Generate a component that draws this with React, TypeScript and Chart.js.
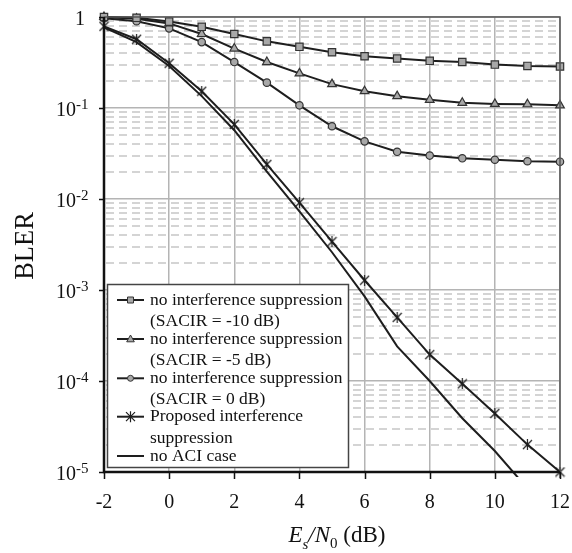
import React, { useEffect, useRef } from 'react';
import { Chart, registerables } from 'chart.js';

Chart.register(...registerables);

// ---------- data ----------
const snrDb = [-2, -1, 0, 1, 2, 3, 4, 5, 6, 7, 8, 9, 10, 11, 12];
const blerSacirM10 = [1.0, 0.98, 0.89, 0.78, 0.65, 0.54, 0.47, 0.41, 0.37, 0.35, 0.33, 0.32, 0.3, 0.29, 0.286];
const blerSacirM5 = [1.0, 0.955, 0.85, 0.65, 0.45, 0.32, 0.24, 0.183, 0.153, 0.135, 0.123, 0.114, 0.111, 0.11, 0.107];
const blerSacir0 = [0.97, 0.9, 0.75, 0.53, 0.32, 0.19, 0.107, 0.063, 0.043, 0.033, 0.03, 0.028, 0.027, 0.026, 0.0257];
const blerProposed = [0.79, 0.57, 0.31, 0.153, 0.066, 0.024, 0.0091, 0.0034, 0.00128, 0.0005, 0.000195, 0.000093, 0.000044, 0.00002, 0.00001];
const snrDbNoAci = [-2, -1, 0, 1, 2, 3, 4, 5, 6, 7, 8, 9, 10, 11];
const blerNoAci = [0.77, 0.53, 0.29, 0.135, 0.057, 0.02, 0.0073, 0.0026, 0.00085, 0.00024, 0.0001, 0.000039, 0.000017, 0.0000066];

const xTickValues = [-2, 0, 2, 4, 6, 8, 10, 12];
const yDecadeExponents = [0, -1, -2, -3, -4, -5];
const legendLabels = [
  ['no interference suppression', '(SACIR = -10 dB)'],
  ['no interference suppression', '(SACIR = -5 dB)'],
  ['no interference suppression', '(SACIR = 0 dB)'],
  ['Proposed interference', 'suppression'],
  ['no ACI case'],
];
const yAxisTitle = 'BLER';

// ---------- styles ----------
const SERIF = '"Liberation Serif", "Times New Roman", serif';
const LINE = '#1e1e1e';
const MARK_FILL = '#a8a8a8';
const MARK_EDGE = '#333333';

function makeStarCanvas(size: number, lw: number) {
  const c = document.createElement('canvas');
  c.width = size;
  c.height = size;
  const g = c.getContext('2d')!;
  g.strokeStyle = LINE;
  g.lineWidth = lw;
  const m = 1;
  const s = size - 1;
  g.beginPath();
  g.moveTo(m, m);
  g.lineTo(s, s);
  g.moveTo(s, m);
  g.lineTo(m, s);
  g.moveTo(size / 2, 0);
  g.lineTo(size / 2, size);
  g.stroke();
  return c;
}

function drawLegendMarker(ctx: CanvasRenderingContext2D, kind: string, x: number, y: number) {
  ctx.save();
  ctx.fillStyle = MARK_FILL;
  ctx.strokeStyle = MARK_EDGE;
  ctx.lineWidth = 1;
  ctx.setLineDash([]);
  if (kind === 'rect') {
    ctx.beginPath();
    ctx.rect(x - 3, y - 3, 6, 6);
    ctx.fill();
    ctx.stroke();
  } else if (kind === 'triangle') {
    ctx.beginPath();
    ctx.moveTo(x, y - 4);
    ctx.lineTo(x + 3.8, y + 2.8);
    ctx.lineTo(x - 3.8, y + 2.8);
    ctx.closePath();
    ctx.fill();
    ctx.stroke();
  } else if (kind === 'circle') {
    ctx.beginPath();
    ctx.arc(x, y, 3, 0, Math.PI * 2);
    ctx.fill();
    ctx.stroke();
  } else if (kind === 'star') {
    ctx.strokeStyle = LINE;
    ctx.lineWidth = 1.2;
    ctx.beginPath();
    ctx.moveTo(x - 4.5, y - 4.5);
    ctx.lineTo(x + 4.5, y + 4.5);
    ctx.moveTo(x + 4.5, y - 4.5);
    ctx.lineTo(x - 4.5, y + 4.5);
    ctx.moveTo(x, y - 5.5);
    ctx.lineTo(x, y + 5.5);
    ctx.stroke();
  }
  ctx.restore();
}

const chartDecor = {
  id: 'chartDecor',
  beforeDatasetsDraw(chart: any) {
    const { ctx, chartArea: a, scales } = chart;
    const y = scales.y;
    ctx.save();
    ctx.strokeStyle = '#c6c6c6';
    ctx.lineWidth = 1.5;
    ctx.setLineDash([8, 5]);
    for (let e = -5; e < 0; e++) {
      for (let m = 2; m <= 9; m++) {
        const py = Math.round(y.getPixelForValue(m * Math.pow(10, e)));
        ctx.beginPath();
        ctx.moveTo(a.left + 2, py);
        ctx.lineTo(a.right, py);
        ctx.stroke();
      }
    }
    ctx.restore();
  },
  afterDatasetsDraw(chart: any) {
    const { ctx, chartArea: a, scales } = chart;
    const { x, y } = scales;
    ctx.save();
    ctx.setLineDash([]);
    // top & right frame
    ctx.strokeStyle = '#555555';
    ctx.lineWidth = 1.5;
    ctx.beginPath();
    ctx.moveTo(a.left, a.top);
    ctx.lineTo(a.right, a.top);
    ctx.lineTo(a.right, a.bottom);
    ctx.stroke();
    // left & bottom axes
    ctx.strokeStyle = '#111111';
    ctx.lineWidth = 2.5;
    ctx.beginPath();
    ctx.moveTo(a.left, a.top);
    ctx.lineTo(a.left, a.bottom);
    ctx.lineTo(a.right, a.bottom);
    ctx.stroke();
    // tick marks
    ctx.lineWidth = 1.5;
    ctx.beginPath();
    for (const v of xTickValues) {
      const px = Math.round(x.getPixelForValue(v)) + 0.5;
      ctx.moveTo(px, a.bottom);
      ctx.lineTo(px, a.bottom + 7);
    }
    for (const e of yDecadeExponents) {
      const py = Math.round(y.getPixelForValue(Math.pow(10, e))) + 0.5;
      ctx.moveTo(a.left - 5, py);
      ctx.lineTo(a.left, py);
    }
    ctx.stroke();
    ctx.restore();
  },
  afterDraw(chart: any) {
    const { ctx, chartArea: a, scales } = chart;
    const { x, y } = scales;
    ctx.save();
    ctx.fillStyle = '#111111';
    ctx.textBaseline = 'alphabetic';

    // x tick labels
    ctx.font = `20px ${SERIF}`;
    ctx.textAlign = 'center';
    for (const v of xTickValues) {
      ctx.fillText(String(v), x.getPixelForValue(v), 508);
    }

    // y tick labels
    for (const e of yDecadeExponents) {
      const py = y.getPixelForValue(Math.pow(10, e));
      if (e === 0) {
        ctx.font = `20px ${SERIF}`;
        ctx.textAlign = 'center';
        ctx.fillText('1', 80, py + 7.5);
      } else {
        ctx.font = `20px ${SERIF}`;
        ctx.textAlign = 'left';
        ctx.fillText('10', 56, py + 8);
        const w = ctx.measureText('10').width;
        ctx.font = `15px ${SERIF}`;
        ctx.fillText(String(e), 56 + w, py + 0.5);
      }
    }

    // y title
    ctx.save();
    ctx.translate(33, 246);
    ctx.rotate(-Math.PI / 2);
    ctx.font = `26.5px ${SERIF}`;
    ctx.textAlign = 'center';
    ctx.fillText(yAxisTitle, 0, 0);
    ctx.restore();

    // x title: E_s/N_0 (dB)
    const big = 23;
    const small = 15;
    const parts = [
      { t: 'E', f: `italic ${big}px ${SERIF}`, dy: 0 },
      { t: 's', f: `italic ${small}px ${SERIF}`, dy: 7 },
      { t: '/', f: `italic ${big}px ${SERIF}`, dy: 0 },
      { t: 'N', f: `italic ${big}px ${SERIF}`, dy: 0 },
      { t: '0', f: `${small}px ${SERIF}`, dy: 6 },
      { t: ' (dB)', f: `${big}px ${SERIF}`, dy: 0 },
    ];
    let total = 0;
    const widths: number[] = [];
    for (const p of parts) {
      ctx.font = p.f;
      const w = ctx.measureText(p.t).width;
      widths.push(w);
      total += w;
    }
    let cx = 337 - total / 2;
    ctx.textAlign = 'left';
    parts.forEach((p, i) => {
      ctx.font = p.f;
      ctx.fillText(p.t, cx, 542 + p.dy);
      cx += widths[i];
    });

    // legend
    const bx = 107.5;
    const by = 284.5;
    const bw = 241;
    const bh = 183;
    ctx.fillStyle = '#ffffff';
    ctx.fillRect(bx, by, bw, bh);
    ctx.strokeStyle = '#444444';
    ctx.lineWidth = 1.5;
    ctx.strokeRect(bx, by, bw, bh);

    const kinds = ['rect', 'triangle', 'circle', 'star', 'none'];
    const entryY = [300, 339, 378.3, 416.7, 456];
    const secondLineGap = 21.5;
    ctx.font = `17.5px ${SERIF}`;
    ctx.textBaseline = 'middle';
    ctx.textAlign = 'left';
    legendLabels.forEach((lines, i) => {
      const ly = entryY[i];
      ctx.strokeStyle = LINE;
      ctx.lineWidth = 2;
      ctx.beginPath();
      ctx.moveTo(117, ly);
      ctx.lineTo(144, ly);
      ctx.stroke();
      drawLegendMarker(ctx, kinds[i], 130.5, ly);
      ctx.fillStyle = '#111111';
      lines.forEach((txt, j) => {
        ctx.fillText(txt, 150, ly + j * secondLineGap);
      });
    });

    ctx.restore();
  },
};

export default function App() {
  const canvasRef = useRef<HTMLCanvasElement | null>(null);

  useEffect(() => {
    const canvas = canvasRef.current;
    if (!canvas) return;
    const star = makeStarCanvas(11, 1.2);
    const toPts = (xs: number[], ys: number[]) => xs.map((v, i) => ({ x: v, y: ys[i] }));
    const markerBase = {
      borderColor: LINE,
      borderWidth: 2,
      pointBackgroundColor: MARK_FILL,
      pointBorderColor: MARK_EDGE,
      pointBorderWidth: 1.2,
      tension: 0,
      fill: false,
      clip: false as any,
    };

    const chart = new Chart(canvas, {
      type: 'line',
      data: {
        datasets: [
          { ...markerBase, label: 'SACIR -10', data: toPts(snrDb, blerSacirM10), pointStyle: 'rect', pointRadius: 5.2 },
          { ...markerBase, label: 'SACIR -5', data: toPts(snrDb, blerSacirM5), pointStyle: 'triangle', pointRadius: 5 },
          { ...markerBase, label: 'SACIR 0', data: toPts(snrDb, blerSacir0), pointStyle: 'circle', pointRadius: 3.7 },
          { ...markerBase, label: 'Proposed', data: toPts(snrDb, blerProposed), pointStyle: star as any, pointRadius: 5 },
          {
            label: 'no ACI',
            data: toPts(snrDbNoAci, blerNoAci),
            borderColor: LINE,
            borderWidth: 2,
            pointRadius: 0,
            tension: 0,
            fill: false,
            clip: { left: 0, top: 0, right: 0, bottom: 5 } as any,
          },
        ],
      },
      options: {
        animation: false,
        responsive: true,
        maintainAspectRatio: false,
        layout: { padding: { left: 104, top: 17, right: 12, bottom: 81 } },
        plugins: { legend: { display: false }, tooltip: { enabled: false } },
        events: [],
        scales: {
          x: {
            type: 'linear',
            min: -2,
            max: 12,
            afterBuildTicks: (s: any) => {
              s.ticks = xTickValues.map((v) => ({ value: v }));
            },
            ticks: { display: false },
            border: { display: false },
            grid: { color: '#b4b4b4', lineWidth: 1.5, drawTicks: false },
          },
          y: {
            type: 'logarithmic',
            min: 1e-5,
            max: 1,
            afterBuildTicks: (s: any) => {
              s.ticks = yDecadeExponents.map((e) => ({ value: Math.pow(10, e) }));
            },
            ticks: { display: false },
            border: { display: false },
            grid: { color: '#b4b4b4', lineWidth: 1.5, drawTicks: false },
          },
        },
      },
      plugins: [chartDecor],
    });

    return () => chart.destroy();
  }, []);

  return (
    <div style={{ position: 'fixed', left: 0, top: 0, width: 572, height: 553, background: '#ffffff' }}>
      <canvas ref={canvasRef} />
    </div>
  );
}
